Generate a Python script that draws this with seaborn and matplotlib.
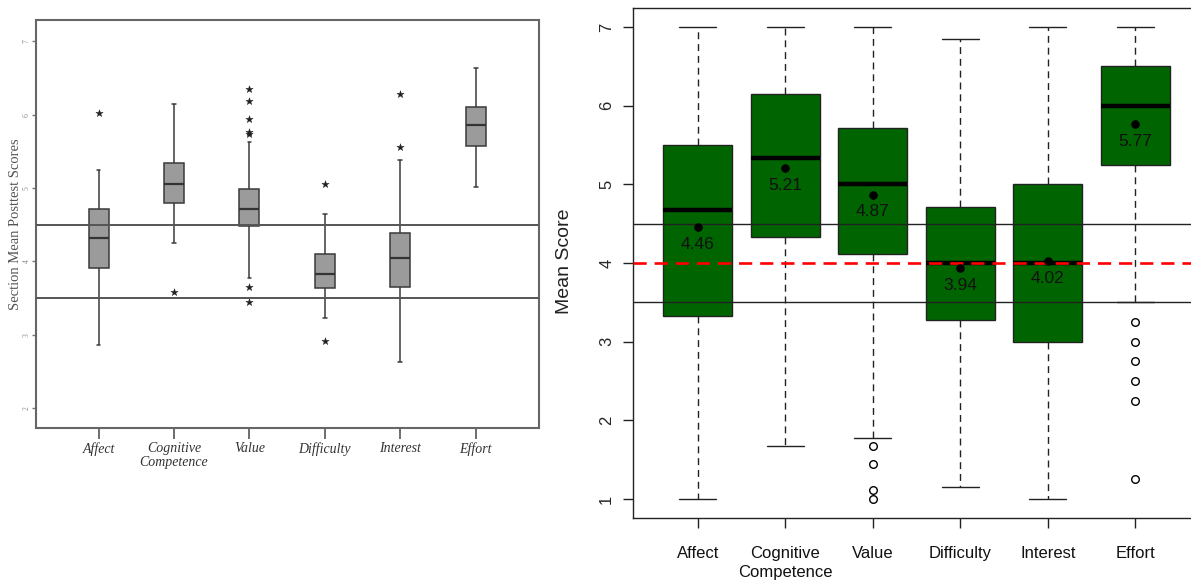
import matplotlib
matplotlib.use('Agg')
import matplotlib.pyplot as plt
import pandas as pd
import seaborn as sns

sns.set_theme(style='ticks')

factors = ['Affect', 'Cognitive\nCompetence', 'Value', 'Difficulty', 'Interest', 'Effort']

# left panel: section mean posttest scores (five-number summaries + starred outliers)
sec_low = [2.86, 4.25, 3.78, 3.23, 2.63, 5.01]
sec_q1 = [3.91, 4.79, 4.48, 3.64, 3.65, 5.57]
sec_med = [4.32, 5.05, 4.71, 3.83, 4.05, 5.86]
sec_q3 = [4.71, 5.34, 4.99, 4.10, 4.39, 6.10]
sec_high = [5.24, 6.14, 5.63, 4.65, 5.38, 6.64]
sec_out_factor = ['Affect', 'Cognitive\nCompetence', 'Value', 'Value', 'Value', 'Value', 'Value',
                  'Value', 'Value', 'Difficulty', 'Difficulty', 'Interest', 'Interest']
sec_out_value = [6.02, 3.59, 6.35, 6.18, 5.94, 5.76, 5.74, 3.65, 3.45, 5.05, 2.92, 6.28, 5.56]

# right panel: student mean scores
stu_low = [1.00, 1.67, 1.78, 1.15, 1.00, 3.50]
stu_q1 = [3.33, 4.33, 4.11, 3.28, 3.00, 5.24]
stu_med = [4.67, 5.33, 5.00, 4.00, 4.00, 6.00]
stu_q3 = [5.50, 6.15, 5.72, 4.71, 5.00, 6.50]
stu_high = [7.00, 7.00, 7.00, 6.84, 7.00, 7.00]
stu_mean = [4.46, 5.21, 4.87, 3.94, 4.02, 5.77]
stu_out_factor = ['Value'] * 4 + ['Effort'] * 6
stu_out_value = [1.67, 1.45, 1.12, 1.00, 3.25, 3.00, 2.75, 2.50, 2.25, 1.25]


def five_number(low, q1, med, q3, high):
    rows = []
    for f, *vals in zip(factors, low, q1, med, q3, high):
        rows += [(f, v) for v in vals]
    return pd.DataFrame(rows, columns=['factor', 'score'])


fig = plt.figure(figsize=(11.91, 5.84), dpi=100)
ax1 = fig.add_axes([36 / 1191, 1 - 428 / 584, 503 / 1191, 408 / 584])
ax2 = fig.add_axes([633 / 1191, 1 - 518 / 584, 567 / 1191, 510 / 584])

# ---- left panel (SPSS-like) ----
sns.boxplot(data=five_number(sec_low, sec_q1, sec_med, sec_q3, sec_high), x='factor', y='score',
            order=factors, whis=(0, 100), width=0.265, color='#9b9b9b', saturation=1,
            linecolor='#3a3a3a', linewidth=1.1, showfliers=False, capwidths=0.05,
            medianprops={'color': '#333333', 'linewidth': 1.6}, ax=ax1)
sns.scatterplot(x=[factors.index(f) for f in sec_out_factor], y=sec_out_value, marker='*',
                s=30, color='#222222', edgecolor='#222222', linewidth=0.3, ax=ax1, zorder=4)
for y in (4.5, 3.5):
    ax1.axhline(y, color='#555555', lw=1.4, zorder=5)
ax1.set_xlim(-0.83, 5.84)
ax1.set_ylim(1.73, 7.29)
ax1.set_yticks(range(2, 8))
ax1.set_xticks(range(6))
ax1.set_xticklabels(factors, family='Liberation Serif', style='italic', fontsize=10,
                    color='#333333', linespacing=1.15)
ax1.tick_params(axis='x', length=8, width=1.2, color='#555555', pad=2)
ax1.tick_params(axis='y', length=3, width=1, color='#777777', pad=1, labelsize=5.5,
                labelcolor='#888888', labelrotation=90)
for lab in ax1.get_yticklabels():
    lab.set_family('Liberation Serif')
    lab.set_verticalalignment('center')
ax1.set_xlabel('')
ax1.set_ylabel('Section Mean Posttest Scores', family='Liberation Serif', fontsize=10.5,
               color='#555555')
ax1.yaxis.set_label_coords(-0.028, 0.5)
for s in ax1.spines.values():
    s.set_color('#666666')
    s.set_linewidth(1.5)

# ---- right panel (R-like) ----
sns.boxplot(data=five_number(stu_low, stu_q1, stu_med, stu_q3, stu_high), x='factor', y='score',
            order=factors, whis=(0, 100), width=0.79, color='#006400', saturation=1,
            linecolor='#222222', linewidth=1.0, showfliers=False, capwidths=0.42,
            medianprops={'color': 'black', 'linewidth': 3.2},
            whiskerprops={'linestyle': (0, (5, 3.5))}, ax=ax2)
sns.scatterplot(x=[factors.index(f) for f in stu_out_factor], y=stu_out_value, marker='o',
                s=30, facecolor='white', edgecolor='black', linewidth=1.0, ax=ax2, zorder=4)
ax2.axhline(4.5, color='#222222', lw=1.0, zorder=5)
ax2.axhline(3.5, color='#222222', lw=1.0, zorder=5)
ax2.axhline(4.0, color='red', lw=1.9, ls=(0, (5, 3)), zorder=6)
sns.scatterplot(x=list(range(6)), y=stu_mean, color='black', s=32, edgecolor='black', ax=ax2, zorder=7)
for i, m in enumerate(stu_mean):
    ax2.text(i, m - 0.22, f'{m:.2f}', ha='center', va='center', fontsize=12.5,
             family='Liberation Sans', color='#111111', zorder=8)
ax2.set_xlim(-0.74, 5.74)
ax2.set_ylim(0.76, 7.24)
ax2.set_yticks(range(1, 8))
ax2.set_xticks(range(6))
ax2.set_xticklabels(factors, family='Liberation Sans', fontsize=12, color='#111111',
                    linespacing=1.35)
ax2.tick_params(axis='x', length=7.5, width=1, color='#222222', pad=12.5)
ax2.tick_params(axis='y', length=7.5, width=1, color='#222222', pad=6, labelsize=12,
                labelrotation=90)
for lab in ax2.get_yticklabels():
    lab.set_family('Liberation Sans')
    lab.set_verticalalignment('center')
ax2.set_xlabel('')
ax2.set_ylabel('Mean Score', family='Liberation Sans', fontsize=14, color='#222222')
ax2.yaxis.set_label_coords(-0.106, 0.504)
for s in ax2.spines.values():
    s.set_color('#222222')
    s.set_linewidth(1.0)

fig.savefig('out.png', dpi=100, facecolor='white')
